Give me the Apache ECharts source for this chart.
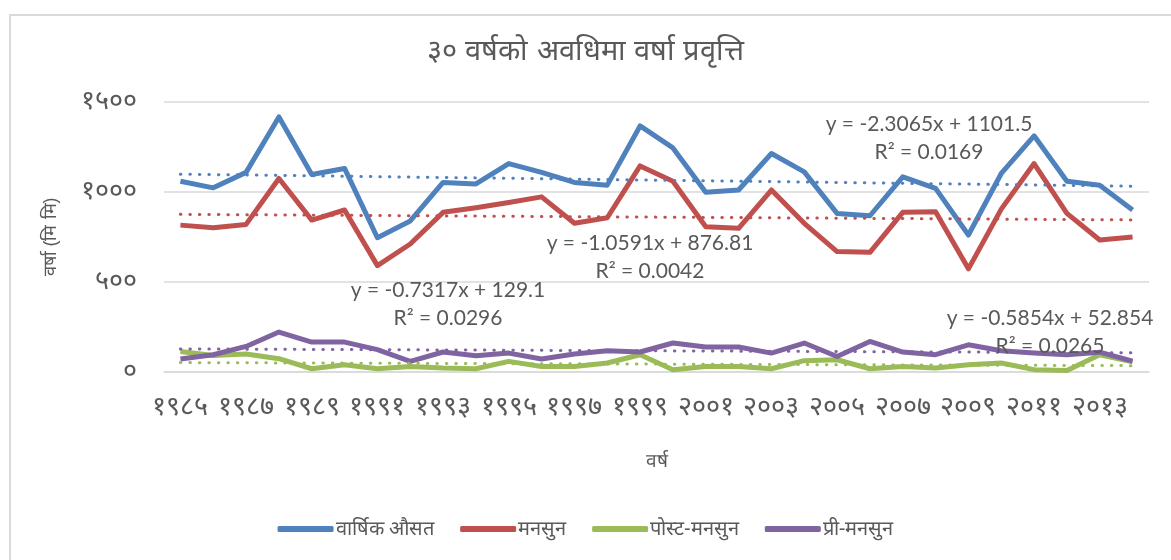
<!DOCTYPE html>
<html>
<head>
<meta charset="utf-8">
<script src="https://cdn.jsdelivr.net/npm/echarts@6/dist/echarts.min.js"></script>
<style>
  html, body { margin: 0; padding: 0; background: #fff; }
  #chart { width: 1171px; height: 560px; }
</style>
</head>
<body>
<div id="chart"></div>
<script>
// वर्ष (1985 - 2014)
var years = [1985, 1986, 1987, 1988, 1989, 1990, 1991, 1992, 1993, 1994,
             1995, 1996, 1997, 1998, 1999, 2000, 2001, 2002, 2003, 2004,
             2005, 2006, 2007, 2008, 2009, 2010, 2011, 2012, 2013, 2014];

var annual = [1060, 1023, 1109, 1417, 1097, 1131, 746, 839, 1053, 1045,
              1158, 1109, 1053, 1038, 1367, 1245, 998, 1011, 1214, 1112,
              881, 868, 1084, 1020, 761, 1103, 1312, 1060, 1038, 900];
var monsoon = [816, 802, 820, 1075, 844, 900, 591, 711, 887, 913,
               942, 973, 826, 857, 1145, 1060, 807, 798, 1011, 826,
               669, 665, 887, 890, 573, 905, 1158, 881, 733, 750];
var postMonsoon = [114, 92, 100, 74, 18, 40, 18, 31, 22, 18,
                   59, 31, 31, 50, 96, 13, 31, 31, 18, 63,
                   68, 18, 31, 22, 40, 50, 13, 8, 96, 57];
var preMonsoon = [72, 96, 142, 222, 166, 166, 124, 59, 111, 90,
                  105, 72, 100, 118, 111, 161, 139, 139, 105, 161,
                  86, 170, 111, 96, 151, 118, 105, 96, 110, 60];

var seriesNames = ['वार्षिक औसत', 'मनसुन', 'पोस्ट-मनसुन', 'प्री-मनसुन'];
var colors = ['#4F81BD', '#C0504D', '#9BBB59', '#8064A2'];

// trendline equations as printed on the chart
var slopes = [-2.3065, -1.0591, -0.5854, -0.7317];
var intercepts = [1101.5, 876.81, 52.854, 129.1];
var r2 = ['0.0169', '0.0042', '0.0265', '0.0296'];

var yTicks = [0, 500, 1000, 1500];

var devaDigits = ['०', '१', '२', '३', '४', '५', '६', '७', '८', '९'];
function toDeva(n) {
  return String(n).replace(/[0-9]/g, function (d) { return devaDigits[+d]; });
}

var chart = echarts.init(document.getElementById('chart'));
var textColor = '#595959';
var allData = [annual, monsoon, postMonsoon, preMonsoon];

var series = [];
allData.forEach(function (d, k) {
  series.push({
    name: seriesNames[k],
    type: 'line',
    data: d,
    symbol: 'none',
    lineStyle: { width: 5, color: colors[k], join: 'round' },
    itemStyle: { color: colors[k] },
    z: 2
  });
});
allData.forEach(function (d, k) {
  series.push({
    name: 'trend' + k,
    type: 'line',
    data: d.map(function (v, i) { return slopes[k] * (i + 1) + intercepts[k]; }),
    symbol: 'none',
    silent: true,
    lineStyle: { width: 3, color: colors[k], type: [0.5, 9], cap: 'round' },
    z: 3
  });
});

function eqText(k) {
  var s = slopes[k] < 0 ? '-' + Math.abs(slopes[k]) : slopes[k];
  return 'y = ' + s + 'x + ' + intercepts[k] + '\nR² = ' + r2[k];
}
// label centres (layout)
var labelPos = [[929, 138], [650, 257], [1050, 332], [448, 304]];
var labels = labelPos.map(function (p, k) {
  return {
    type: 'text',
    x: p[0], y: p[1],
    z: 10,
    style: {
      text: eqText(k),
      fill: textColor,
      font: '21px Lato, "Liberation Sans", sans-serif',
      align: 'center',
      verticalAlign: 'middle',
      lineHeight: 28
    }
  };
});

chart.setOption({
  animation: false,
  color: colors,
  title: {
    text: '३० वर्षको अवधिमा वर्षा प्रवृत्ति',
    left: 'center',
    top: 32,
    textStyle: { color: textColor, fontSize: 29, fontWeight: 'normal' }
  },
  grid: { left: 164, right: 22, top: 102, bottom: 188 },
  legend: {
    data: seriesNames,
    bottom: 16,
    left: 'center',
    icon: 'roundRect',
    itemWidth: 56,
    itemHeight: 6,
    itemGap: 26,
    textStyle: { color: textColor, fontSize: 20, padding: [7, 0, 0, -3] }
  },
  xAxis: {
    type: 'category',
    data: years,
    name: 'वर्ष',
    nameLocation: 'middle',
    nameGap: 80,
    nameTextStyle: { color: textColor, fontSize: 19 },
    axisLine: { lineStyle: { color: '#D9D9D9', width: 1.5 } },
    axisTick: { show: false },
    axisLabel: {
      interval: 1,
      color: textColor,
      fontSize: 27,
      margin: 22,
      formatter: function (v) { return toDeva(v); }
    }
  },
  yAxis: {
    type: 'value',
    min: yTicks[0],
    max: yTicks[yTicks.length - 1],
    interval: yTicks[1] - yTicks[0],
    name: 'वर्षा (मि मि)',
    nameLocation: 'middle',
    nameGap: 104,
    nameTextStyle: { color: textColor, fontSize: 18 },
    axisLine: { show: false },
    axisTick: { show: false },
    splitLine: { lineStyle: { color: '#D9D9D9', width: 1.5 } },
    axisLabel: {
      color: textColor,
      fontSize: 27,
      margin: 27,
      formatter: function (v) { return toDeva(v); }
    }
  },
  graphic: [{
    type: 'rect',
    shape: { x: 10, y: 15, width: 1200, height: 600 },
    style: { fill: 'none', stroke: '#D9D9D9', lineWidth: 2 },
    silent: true,
    z: -1
  }].concat(labels),
  series: series
});
</script>
</body>
</html>
